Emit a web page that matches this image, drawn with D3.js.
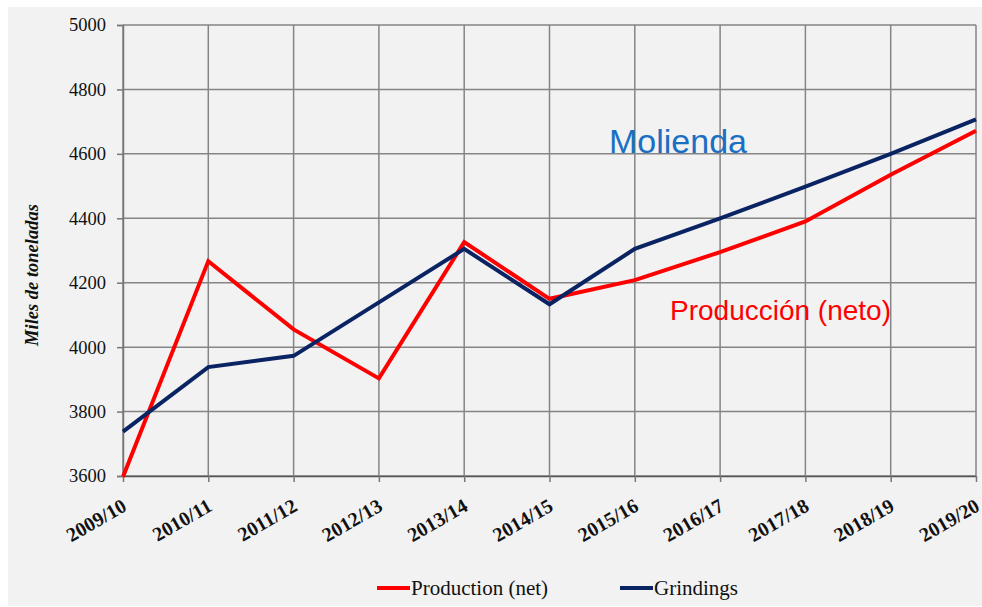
<!DOCTYPE html>
<html>
<head>
<meta charset="utf-8">
<script src="https://cdn.jsdelivr.net/npm/d3@7"></script>
<style>
  body { margin: 0; background: #fff; }
  svg { display: block; }
</style>
</head>
<body>
<div id="chart"></div>
<script>
// seasons on the x axis
var seasons = ["2009/10", "2010/11", "2011/12", "2012/13", "2013/14", "2014/15",
               "2015/16", "2016/17", "2017/18", "2018/19", "2019/20"];

// thousand tonnes
var production = [3598, 4267, 4055, 3903, 4326, 4150, 4208, 4295, 4390, 4535, 4672];
var grindings  = [3738, 3938, 3973, 4139, 4305, 4133, 4305, 4400, 4498, 4600, 4707];

var yTicks = [3600, 3800, 4000, 4200, 4400, 4600, 4800, 5000];

var width = 982, height = 607;
var margin = {top: 25, right: 5, bottom: 131, left: 123};
var plotW = 976 - margin.left;
var plotH = 476 - margin.top;

var svg = d3.select("#chart").append("svg")
    .attr("width", width)
    .attr("height", height);

// grey panel
svg.append("rect")
    .attr("x", 8).attr("y", 7)
    .attr("width", width - 8).attr("height", height - 8)
    .attr("fill", "#f2f2f2");

var g = svg.append("g")
    .attr("transform", "translate(" + margin.left + "," + margin.top + ")");

var x = d3.scalePoint()
    .domain(seasons)
    .range([0, plotW]);

var y = d3.scaleLinear()
    .domain([3600, 5000])
    .range([plotH, 0]);

// grid lines
g.append("g").selectAll("line")
    .data(yTicks)
    .enter().append("line")
    .attr("x1", 0).attr("x2", plotW)
    .attr("y1", function(d) { return y(d); })
    .attr("y2", function(d) { return y(d); })
    .attr("stroke", "#858585")
    .attr("stroke-width", 1.5);

g.append("g").selectAll("line")
    .data(seasons)
    .enter().append("line")
    .attr("x1", function(d) { return x(d); })
    .attr("x2", function(d) { return x(d); })
    .attr("y1", 0).attr("y2", plotH)
    .attr("stroke", "#858585")
    .attr("stroke-width", 1.5);

// y axis
var yAxis = g.append("g")
    .call(d3.axisLeft(y).tickValues(yTicks).tickSize(6).tickPadding(11).tickFormat(d3.format("d")));
yAxis.select(".domain").attr("stroke", "#777").attr("stroke-width", 1.5);
yAxis.selectAll(".tick line").attr("stroke", "#777").attr("stroke-width", 1.5);
yAxis.selectAll("text")
    .attr("font-family", "'Liberation Serif', 'Times New Roman', serif")
    .attr("font-size", 18.5)
    .attr("fill", "#111");

// x axis
var xAxis = g.append("g")
    .attr("transform", "translate(0," + plotH + ")")
    .call(d3.axisBottom(x).tickSize(6).tickSizeOuter(0));
xAxis.select(".domain").attr("stroke", "#555").attr("stroke-width", 1.5);
xAxis.selectAll(".tick line").attr("stroke", "#777").attr("stroke-width", 1.5);
xAxis.selectAll("text")
    .attr("font-family", "'Liberation Serif', 'Times New Roman', serif")
    .attr("font-size", 20)
    .attr("font-weight", "bold")
    .attr("fill", "#111")
    .attr("text-anchor", "end")
    .attr("dy", 0)
    .attr("transform", "translate(0,26) rotate(-30)");

// y axis title
svg.append("text")
    .attr("transform", "translate(38,275) rotate(-90)")
    .attr("text-anchor", "middle")
    .attr("font-family", "'Liberation Serif', 'Times New Roman', serif")
    .attr("font-size", 18.5)
    .attr("font-weight", "bold")
    .attr("font-style", "italic")
    .attr("fill", "#111")
    .text("Miles de toneladas");

var line = d3.line()
    .x(function(d, i) { return x(seasons[i]); })
    .y(function(d) { return y(d); });

g.append("path")
    .datum(production)
    .attr("fill", "none")
    .attr("stroke", "#ff0000")
    .attr("stroke-width", 4)
    .attr("d", line);

g.append("path")
    .datum(grindings)
    .attr("fill", "none")
    .attr("stroke", "#0a2463")
    .attr("stroke-width", 4)
    .attr("d", line);

// annotations in the plot
svg.append("text")
    .attr("x", 609).attr("y", 153)
    .attr("font-family", "'Liberation Sans', Arial, sans-serif")
    .attr("font-size", 34)
    .attr("fill", "#1a6fc4")
    .text("Molienda");

svg.append("text")
    .attr("x", 670).attr("y", 320)
    .attr("font-family", "'Liberation Sans', Arial, sans-serif")
    .attr("font-size", 28)
    .attr("fill", "#ff0000")
    .text("Producción (neto)");

// legend
var legendItems = [
    {name: "Production (net)", color: "#ff0000", x: 377},
    {name: "Grindings", color: "#0a2463", x: 620}
];

var legend = svg.append("g").selectAll("g")
    .data(legendItems)
    .enter().append("g")
    .attr("transform", function(d) { return "translate(" + d.x + ",588)"; });

legend.append("line")
    .attr("x1", 0).attr("x2", 33)
    .attr("stroke", function(d) { return d.color; })
    .attr("stroke-width", 4);

legend.append("text")
    .attr("x", 34).attr("y", 7)
    .attr("font-family", "'Liberation Serif', 'Times New Roman', serif")
    .attr("font-size", 21)
    .attr("fill", "#111")
    .text(function(d) { return d.name; });
</script>
</body>
</html>
